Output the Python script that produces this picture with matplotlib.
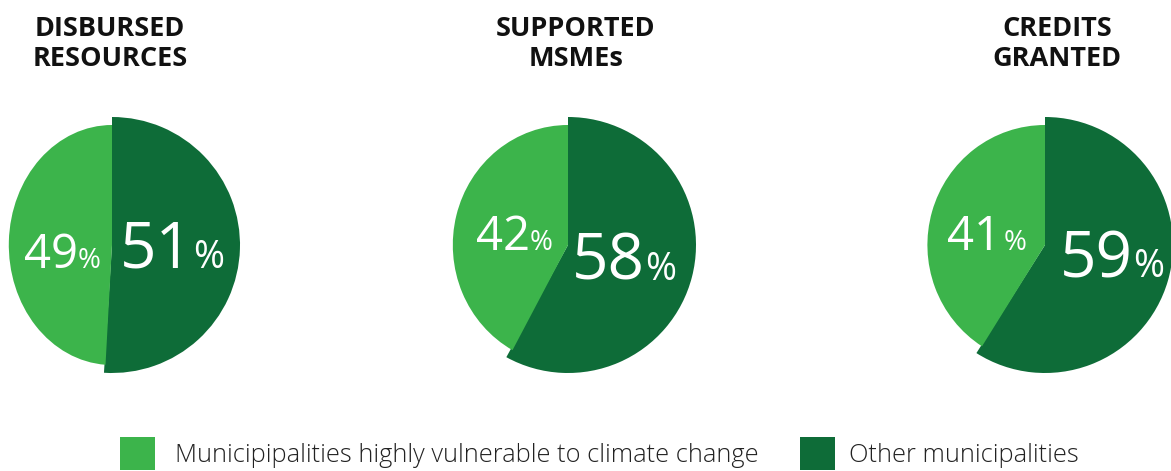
import matplotlib
matplotlib.use("Agg")
import matplotlib.pyplot as plt
from matplotlib.patches import Rectangle
from matplotlib.transforms import Affine2D

titles = ["DISBURSED\nRESOURCES", "SUPPORTED\nMSMEs", "CREDITS\nGRANTED"]
vulnerable = [49, 42, 41]
other = [51, 58, 59]
legend_labels = ["Municipipalities highly vulnerable to climate change", "Other municipalities"]

LIGHT = "#3CB44B"
DARK = "#0E6C38"
W, H = 1171, 471
fig = plt.figure(figsize=(W / 100, H / 100), dpi=100)

centers = [(112, 245), (568, 245), (1045, 245)]
title_x = [110, 576, 1057]
R_DARK = 128
R_LIGHT = 120
light_xscale = [0.86, 0.96, 0.98]
# label layout (pixel offsets relative to pie centre): junction x, baseline y, % gap
small_pos = [(-34, -23, 0), (-38, -5, 0), (-44, -5, 3)]
big_pos = [(81, -23, 0), (77, -35, 0), (88, -32, 0)]

for i in range(3):
    cx, cy = centers[i]
    half = 135
    ax = fig.add_axes([(cx - half) / W, (H - cy - half) / H, 2 * half / W, 2 * half / H])
    wedges, _ = ax.pie([other[i], vulnerable[i]], colors=[DARK, LIGHT], startangle=90,
                       counterclock=False, radius=R_DARK,
                       wedgeprops=dict(linewidth=0))
    wedges[1].set_radius(R_LIGHT)
    wedges[1].set_transform(Affine2D().scale(light_xscale[i], 1) + ax.transData)
    ax.set_xlim(-half, half)
    ax.set_ylim(-half, half)
    ax.set_aspect("equal")
    ax.axis("off")
    sx, sy, sg = small_pos[i]
    ax.text(sx, sy, f"{vulnerable[i]}", ha="right", va="baseline", color="white",
            fontsize=34, family="Open Sans")
    ax.text(sx + sg, sy, "%", ha="left", va="baseline", color="white",
            fontsize=20, family="Open Sans")
    bx, by, bg = big_pos[i]
    ax.text(bx, by, f"{other[i]}", ha="right", va="baseline", color="white",
            fontsize=46, family="Open Sans")
    ax.text(bx + bg, by, "%", ha="left", va="baseline", color="white",
            fontsize=27, family="Open Sans")
    fig.text(title_x[i] / W, 1 - 44 / H, titles[i], ha="center", va="center",
             fontsize=19.5, fontweight="bold", family="Open Sans", linespacing=1.25,
             color="#111111")

# legend
for (x0, tx, lab, col) in [(120, 175, legend_labels[0], LIGHT), (800, 849, legend_labels[1], DARK)]:
    fig.patches.append(Rectangle((x0 / W, 1 - 470 / H), 35 / W, 33 / H, transform=fig.transFigure,
                                 facecolor=col, edgecolor="none"))
    fig.text(tx / W, 1 - 455 / H, lab, ha="left", va="center", fontsize=18.3,
             family="Open Sans", fontweight="light", color="#222222")

fig.savefig("out.png", dpi=100, facecolor="white")
